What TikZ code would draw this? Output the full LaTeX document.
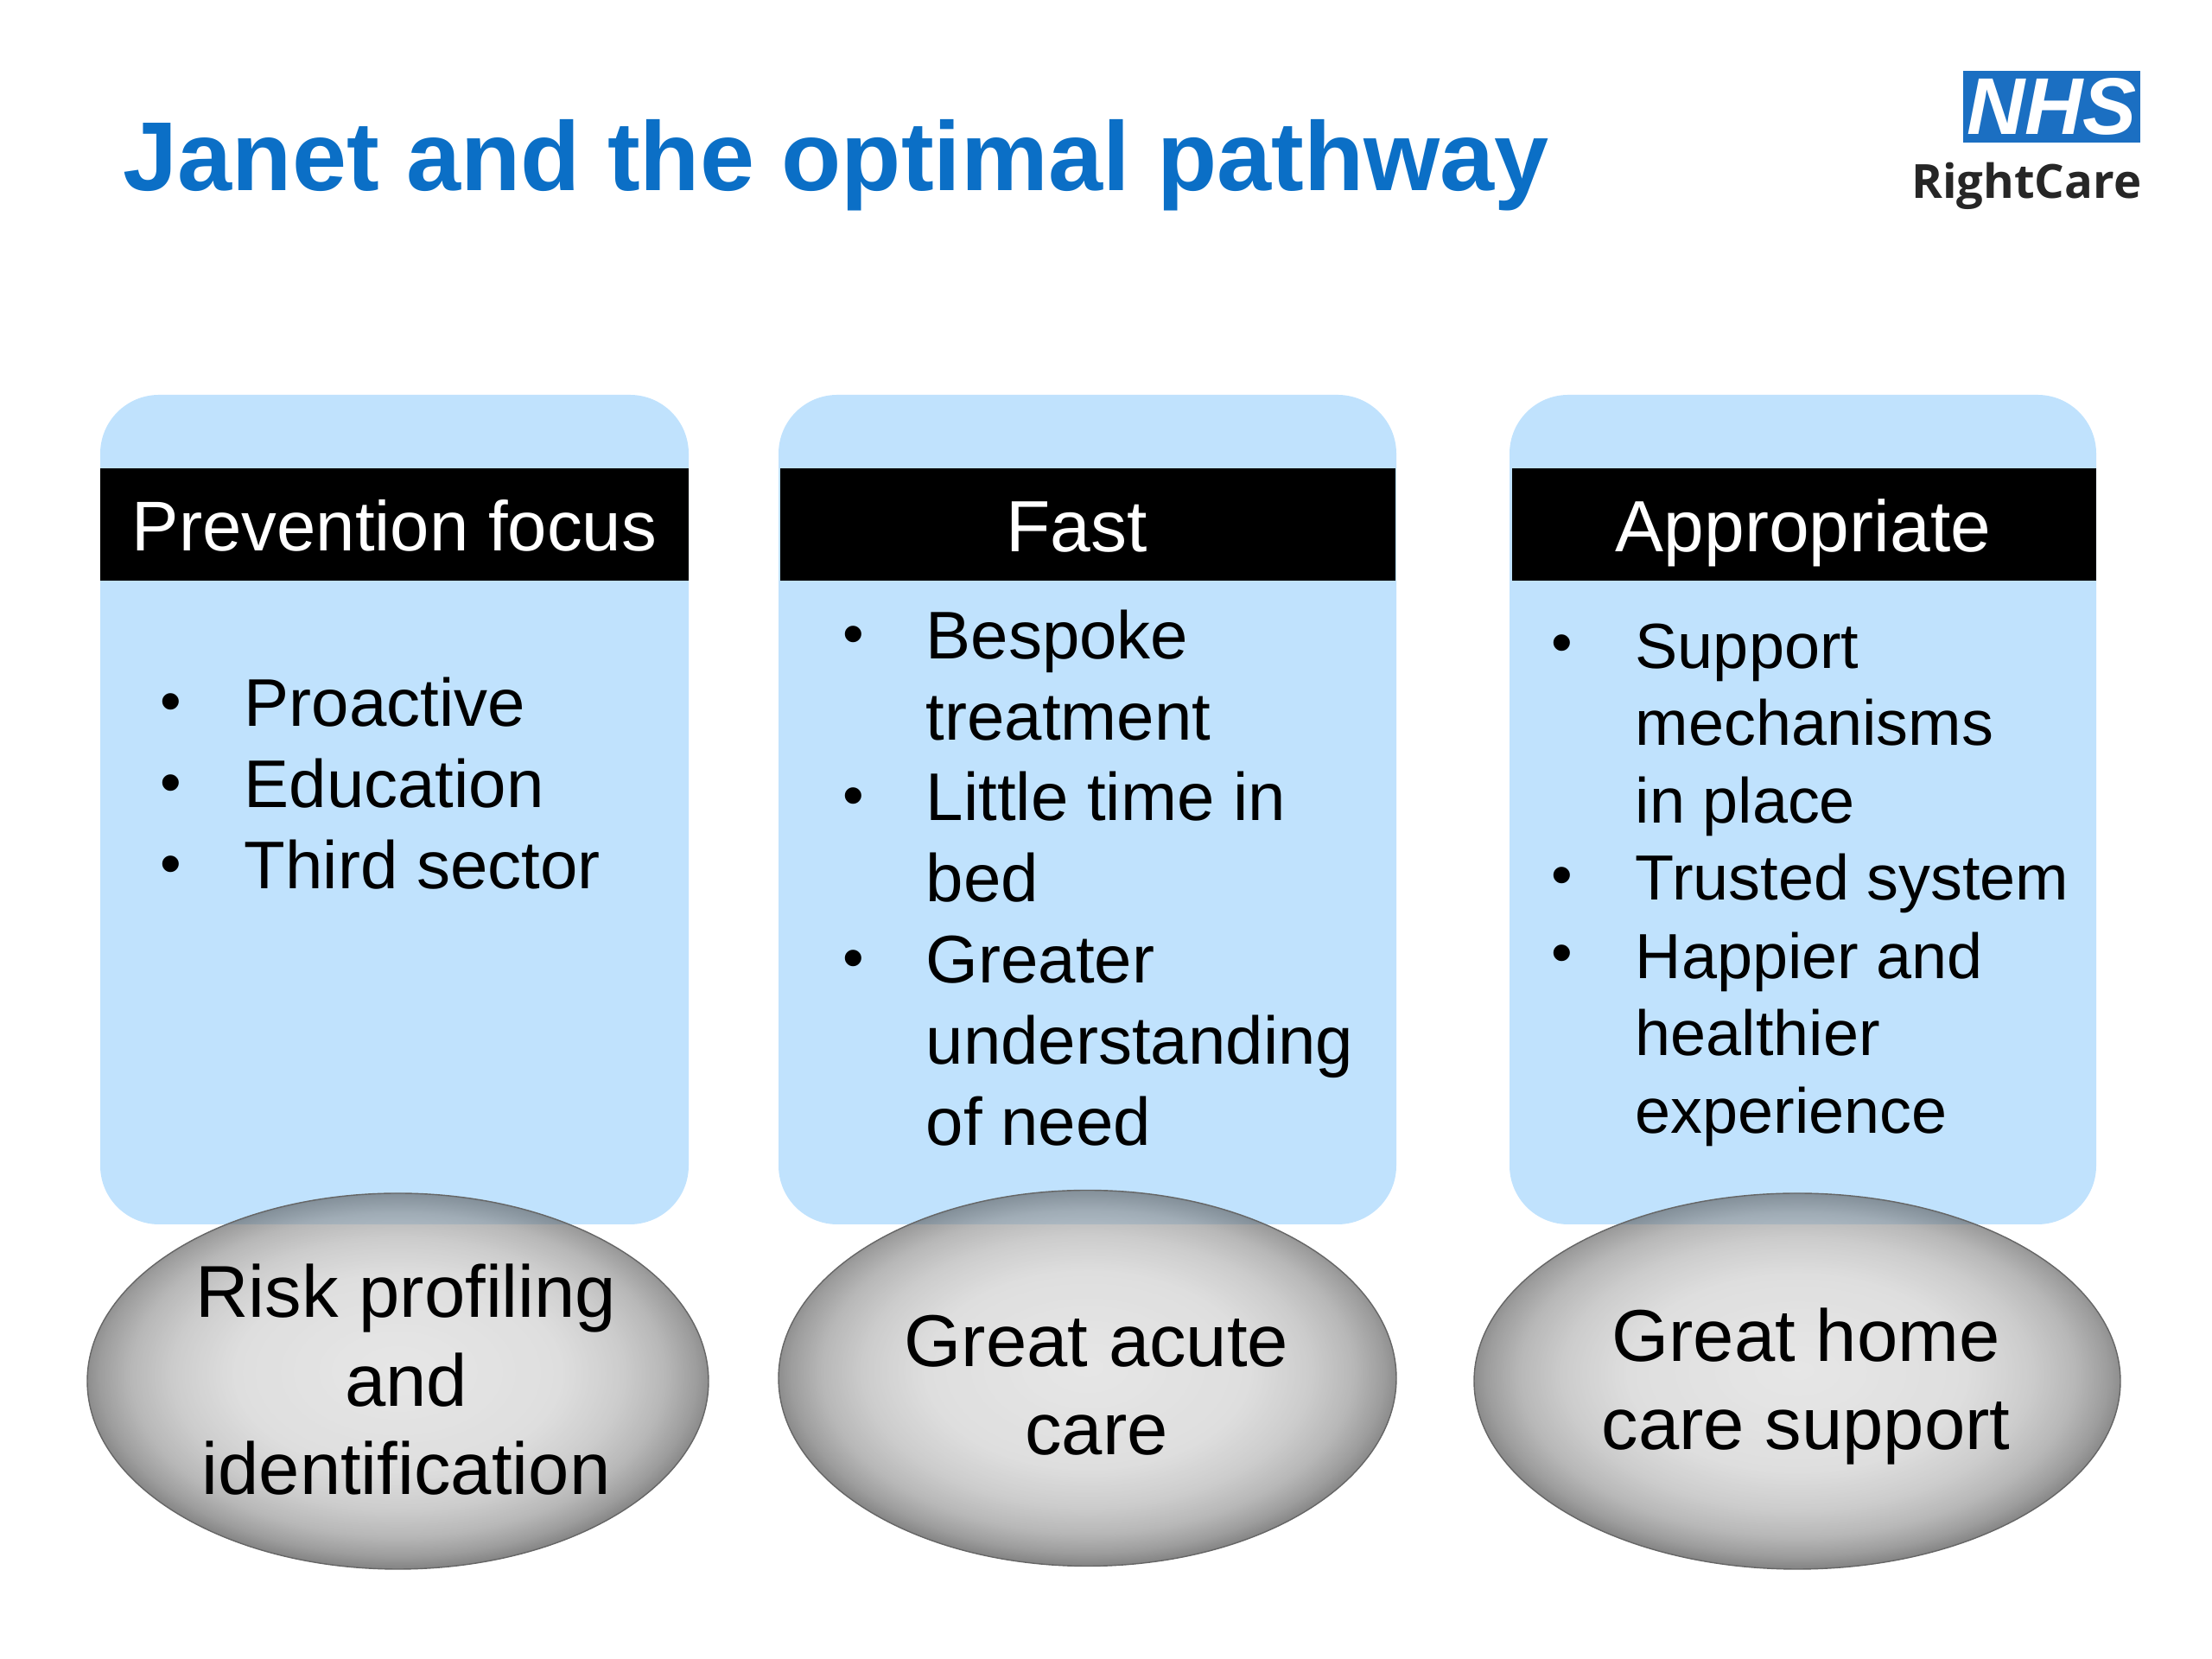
\documentclass[tikz,border=0pt]{standalone}
\usepackage{fontspec}
\setmainfont{Liberation Sans}
\newfontfamily\logofont{Open Sans}
\usetikzlibrary{shapes.geometric}
\definecolor{rcblue}{HTML}{0B6FC6}
\definecolor{rcsky}{HTML}{C0E2FD}
\definecolor{rclogo}{HTML}{1B6FC2}
\pgfdeclareradialshading{rcball}{\pgfpoint{0bp}{1.5bp}}{%
    color(0bp)=(black!15); color(13bp)=(black!20); color(18bp)=(black!31);
    color(21.5bp)=(black!44); color(24bp)=(black!60); color(25.5bp)=(black!74);
    color(50bp)=(black!74)}
\tikzset{
    rc title/.style={anchor=base west, inner sep=0pt, text=rcblue,
                     font=\fontsize{32.25}{38}\selectfont\bfseries},
    rc panel/.style={rectangle, fill=rcsky, rounded corners=0.68cm,
                     minimum height=9.6cm, inner sep=0pt},
    rc head/.style={rectangle, fill=black, text=white, minimum height=1.3cm,
                    inner sep=0pt, text height=0.64cm, text depth=0pt,
                    font=\fontsize{23.9}{28}\selectfont},
    rc item/.style={anchor=base west, inner sep=0pt, align=left,
                    font=\fontsize{22.2}{26.75}\selectfont},
    rc dense/.style={rc item, font=\fontsize{21}{25.5}\selectfont},
    rc bullet/.style={anchor=base, inner sep=0pt, yshift=0.05cm,
                      font=\fontsize{20}{26.75}\selectfont},
    rc ball/.style={ellipse, draw=black!60, thin, shading=rcball,
                    fill opacity=0.64, inner sep=0pt, minimum height=4.35cm},
    rc label/.style={anchor=base, inner sep=0pt, align=center,
                     font=\fontsize{24.2}{29.3}\selectfont},
}
\begin{document}
\begin{tikzpicture}
    \useasboundingbox (0,0) rectangle (25.6,19.2);
    % Title and logo
    \node[rc title] (title) at (1.42, 16.99) {Janet and the optimal pathway};
    \node[rectangle, fill=rclogo, text=white, minimum width=2.05cm,
          minimum height=0.83cm, inner sep=0pt,
          font=\fontsize{26.5}{30}\selectfont\bfseries\itshape] (nhs) at (23.745, 17.965) {NHS};
    \node[anchor=base east, inner sep=0pt, text=black!85,
          font=\logofont\fontsize{15.5}{18}\selectfont\bfseries] (rightcare) at (24.79, 16.90) {RightCare};
    % Panels
    \node[rc panel, minimum width=6.81cm] (panela) at (4.565, 9.83) {};
    \node[rc panel, minimum width=7.15cm] (panelb) at (12.585, 9.83) {};
    \node[rc panel, minimum width=6.79cm] (panelc) at (20.865, 9.83) {};
    % Headers
    \node[rc head, minimum width=6.81cm, text height=0.61cm,
          font=\fontsize{23.2}{28}\selectfont] (heada) at (4.565, 13.13) {Prevention focus};
    \node[rc head, minimum width=7.12cm] (headb) at (12.59, 13.13) {Fast\hspace*{0.26cm}};
    \node[rc head, minimum width=6.76cm] (headc) at (20.88, 13.13) {Appropriate\hspace*{0.02cm}};
    % Left list
    \node[rc bullet] (bulleta1) at (1.98, 10.79) {•};
    \node[rc item] (itema1) at (2.82, 10.79) {Proactive};
    \node[rc bullet] (bulleta2) at (1.98, 9.85) {•};
    \node[rc item] (itema2) at (2.82, 9.85) {Education};
    \node[rc bullet] (bulleta3) at (1.98, 8.91) {•};
    \node[rc item] (itema3) at (2.82, 8.91) {Third sector};
    % Middle list, anchored on the last line of each item
    \node[rc bullet] (bulletb1) at (9.88, 11.575) {•};
    \node[rc item] (itemb1) at (10.71, 10.635) {Bespoke\\treatment};
    \node[rc bullet] (bulletb2) at (9.88, 9.70) {•};
    \node[rc item] (itemb2) at (10.71, 8.76) {Little time in\\bed};
    \node[rc bullet] (bulletb3) at (9.88, 7.82) {•};
    \node[rc item] (itemb3) at (10.71, 5.94) {Greater\\understanding\\of need};
    % Right list
    \node[rc bullet] (bulletc1) at (18.08, 11.47) {•};
    \node[rc dense] (itemc1) at (18.92, 9.674) {Support\\mechanisms\\in place};
    \node[rc bullet] (bulletc2) at (18.08, 8.78) {•};
    \node[rc dense] (itemc2) at (18.92, 8.78) {Trusted system};
    \node[rc bullet] (bulletc3) at (18.08, 7.88) {•};
    \node[rc dense] (itemc3) at (18.92, 6.084) {Happier and\\healthier\\experience};
    % Ellipses
    \node[rc ball, minimum width=7.19cm] (balla) at (4.605, 3.215) {};
    \node[rc ball, minimum width=7.15cm] (ballb) at (12.585, 3.25) {};
    \node[rc ball, minimum width=7.48cm] (ballc) at (20.80, 3.215) {};
    \node[rc label] (labela) at (4.70, 1.90) {Risk profiling\\and\\identification};
    \node[rc label] (labelb) at (12.69, 2.36) {Great acute\\care};
    \node[rc label] (labelc) at (20.90, 2.42) {Great home\\care support};
\end{tikzpicture}
\end{document}
